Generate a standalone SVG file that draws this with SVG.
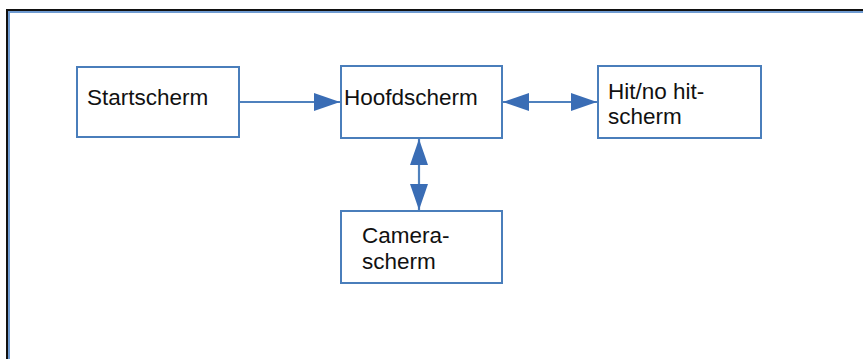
<svg xmlns="http://www.w3.org/2000/svg" width="863" height="359" viewBox="0 0 863 359">
<style>
.box{fill:#fff;stroke:#4a7ebb;stroke-width:2}
.lbl{font-family:"Liberation Sans",Arial,sans-serif;font-size:22.5px;fill:#111}
.con{stroke:#4f81bd;stroke-width:2.2;fill:none}
</style>
<defs>
<marker id="ah" viewBox="0 0 26 18" refX="26" refY="9" markerWidth="26" markerHeight="18" markerUnits="userSpaceOnUse" orient="auto-start-reverse">
<path d="M0,0 L26,9 L0,18 Z" fill="#3a6db5"/>
</marker>
</defs>
<rect width="863" height="359" fill="#fff"/>
<g id="frame">
<path d="M7,360 V10 H864" fill="none" stroke="#111" stroke-width="2"/>
<path d="M9,360 V12 H864" fill="none" stroke="#6f9bd1" stroke-width="2"/>
</g>
<g id="connectors">
<line class="con" x1="240" y1="102" x2="340" y2="102" marker-end="url(#ah)"/>
<line class="con" x1="503" y1="102" x2="597" y2="102" marker-start="url(#ah)" marker-end="url(#ah)"/>
<line class="con" x1="419" y1="139" x2="419" y2="210" marker-start="url(#ah)" marker-end="url(#ah)"/>
</g>
<g id="startscherm">
<rect class="box" x="77" y="67" width="162" height="70"/>
<text class="lbl" x="87" y="105">Startscherm</text>
</g>
<g id="hoofdscherm">
<rect class="box" x="341" y="66" width="161" height="72"/>
<text class="lbl" x="344" y="105">Hoofdscherm</text>
</g>
<g id="hitscherm">
<rect class="box" x="598" y="66" width="163" height="72"/>
<text class="lbl" x="608" y="99">Hit/no hit-</text>
<text class="lbl" x="608" y="124">scherm</text>
</g>
<g id="camerascherm">
<rect class="box" x="341" y="211" width="161" height="72"/>
<text class="lbl" x="362" y="243">Camera-</text>
<text class="lbl" x="362" y="269">scherm</text>
</g>
</svg>
